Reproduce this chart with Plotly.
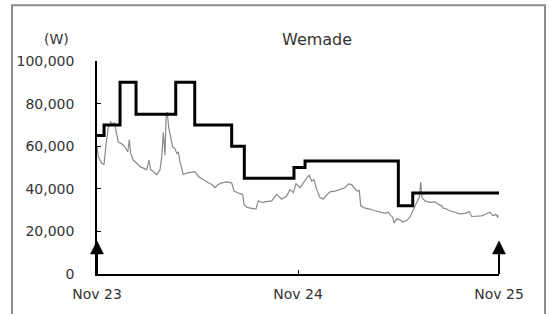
import plotly.graph_objects as go

# ---- data (hours since Nov 23 00:00, values in won) ----
step_hours = [0, 0.84, 2.75, 4.66, 9.4, 11.67, 16.08, 17.59, 23.52, 24.84, 35.98, 37.7, 48.0]
step_values = [65000, 70000, 90000, 75000, 90000, 70000, 60000, 45000, 50000, 53000, 32000, 38000, 38000]

price_hours = [0, 0.16, 0.56, 0.84, 1.07, 1.35, 1.64, 1.87, 2.07, 2.27, 2.54, 2.95, 3.34, 3.67, 3.86,
               4.02, 4.33, 4.74, 5.13, 5.53, 5.93, 6.21, 6.41, 6.72, 7.13, 7.52, 7.73, 7.92, 8.12,
               8.24, 8.39, 8.56, 8.80, 9.04, 9.31, 9.52, 9.71, 9.91, 10.30, 10.71, 11.31, 11.70,
               12.10, 12.50, 12.90, 13.29, 13.70, 14.09, 14.48, 14.89, 15.49, 16.08, 16.36, 16.68,
               17.07, 17.40, 17.55, 17.87, 18.47, 18.98, 19.26, 19.67, 20.26, 20.86, 21.46, 22.05,
               22.65, 23.04, 23.44, 23.76, 24.24, 24.63, 25.04, 25.35, 25.64, 25.91, 26.23, 26.63,
               27.02, 27.43, 27.82, 28.42, 29.01, 29.61, 30.01, 30.41, 30.69, 31.08, 31.32, 31.49,
               32.00, 32.60, 33.19, 33.79, 34.39, 34.78, 35.07, 35.31, 35.46, 35.78, 36.18, 36.50,
               36.98, 37.37, 37.69, 38.17, 38.48, 38.65, 38.81, 39.16, 39.76, 40.36, 40.75, 41.16,
               41.35, 41.75, 42.15, 42.75, 43.34, 43.94, 44.45, 44.74, 45.34, 45.93, 46.33, 46.92,
               47.25, 47.64, 47.84, 48.0]
price_values = [59600, 55000, 52000, 51500, 60400, 68800, 71400, 70300, 71100, 67300, 61900, 61100,
                59600, 57300, 63100, 56600, 53500, 52000, 50400, 49700, 48900, 53500, 48900, 48100,
                46600, 48900, 55000, 66500, 55800, 73400, 76000, 68800, 64200, 59600, 58900, 56600,
                57300, 52700, 46600, 47400, 47800, 48100, 45800, 44700, 43500, 42800, 42000, 40500,
                42000, 42800, 43200, 42800, 38900, 38200, 37700, 37400, 32800, 31300, 30900, 30500,
                34300, 33600, 34000, 34300, 37400, 35100, 36600, 39700, 38200, 42300, 40500, 42800,
                45100, 46300, 43500, 44300, 39700, 35900, 35100, 37100, 38600, 38900, 39700, 40500,
                42300, 42000, 40500, 38900, 39200, 32000, 30900, 30500, 29700, 29000, 28500, 29000,
                27400, 26700, 23900, 25900, 25400, 24400, 25100, 26700, 29700, 33600, 35900, 43200,
                35900, 34300, 33600, 33900, 32800, 32000, 30900, 30500, 29700, 29000, 28200, 28500,
                29300, 27000, 27000, 27300, 27900, 29000, 27400, 27900, 26700, 27600]

x_tick_vals = [0, 24, 48]
x_tick_text = ["Nov 23", "Nov 24", "Nov 25"]
y_tick_vals = [0, 20000, 40000, 60000, 80000, 100000]
title_text = "Wemade"
unit_text = "(W)"

FONT = "DejaVu Sans"
TXT = "#333333"

fig = go.Figure()
fig.add_trace(go.Scatter(x=price_hours, y=price_values, mode="lines",
                         line=dict(color="#8a8a8a", width=1.2), hoverinfo="skip"))
fig.add_trace(go.Scatter(x=step_hours, y=step_values, mode="lines",
                         line=dict(color="#000000", width=3, shape="hv"), hoverinfo="skip"))

shapes = [dict(type="rect", xref="paper", yref="paper",
               x0=-0.2114, x1=1.1144, y0=-0.25, y1=1.2615,
               line=dict(color="#8c8c8c", width=2), fillcolor="rgba(0,0,0,0)", layer="below")]
# arrows at the start and end of the period (pixel-sized, anchored on the axis ends)
for xa in [0, 1]:
    shapes.append(dict(type="line", xref="paper", yref="paper", xsizemode="pixel", ysizemode="pixel",
                       xanchor=xa, yanchor=0, x0=0, x1=0, y0=0, y1=21,
                       line=dict(color="#000000", width=2), layer="above"))
    shapes.append(dict(type="path", xref="paper", yref="paper", xsizemode="pixel", ysizemode="pixel",
                       xanchor=xa, yanchor=0, path="M -6.5,20 L 6.5,20 L 0,33 Z",
                       fillcolor="#000000", line=dict(color="#000000", width=0.5), layer="above"))

fig.update_layout(
    width=552, height=314,
    margin=dict(l=97, r=53, t=61, b=36),
    paper_bgcolor="white", plot_bgcolor="white",
    showlegend=False,
    font=dict(family=FONT, size=14, color=TXT),
    xaxis=dict(range=[0, 48], tickvals=x_tick_vals, ticktext=x_tick_text,
               showgrid=False, zeroline=False, showline=True, linecolor="#000000", linewidth=1.5,
               ticks="inside", ticklen=4, tickcolor="#000000", tickwidth=1,
               ticklabelstandoff=6, tickfont=dict(family=FONT, size=14, color=TXT)),
    yaxis=dict(range=[0, 100000], tickvals=y_tick_vals, tickformat=",d",
               showgrid=False, zeroline=False, showline=True, linecolor="#000000", linewidth=1.5,
               ticks="inside", ticklen=4, tickcolor="#000000", tickwidth=1,
               ticklabelstandoff=18, tickfont=dict(family=FONT, size=14, color=TXT)),
    shapes=shapes,
    annotations=[
        dict(text=title_text, xref="paper", yref="paper", x=0.548, y=1.0986,
             xanchor="center", yanchor="middle",
             showarrow=False, font=dict(family=FONT, size=16, color=TXT)),
        dict(text=unit_text, xref="paper", yref="paper", x=-0.1003, y=1.1055,
             xanchor="center", yanchor="middle",
             showarrow=False, font=dict(family=FONT, size=14, color=TXT)),
    ],
)

fig.write_html("out.html", config={"displayModeBar": False},
               post_script="document.body.style.margin='0px';document.body.style.overflow='hidden';")
